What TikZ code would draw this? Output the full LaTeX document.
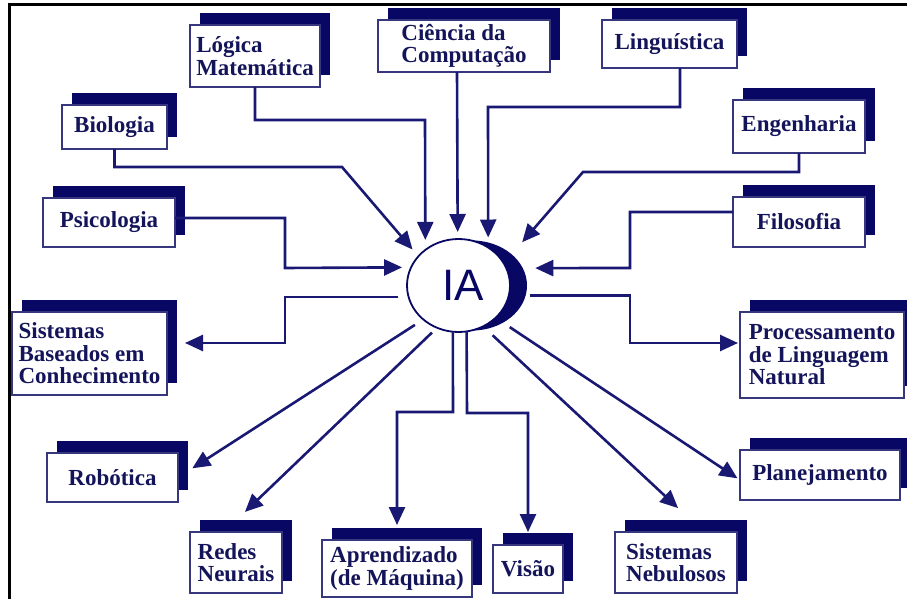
\documentclass[tikz,border=0pt]{standalone}
\usepackage{fontspec}
\setmainfont{Liberation Serif}
\newfontfamily\iafont{Liberation Sans}
\usetikzlibrary{shapes.geometric,shadows,arrows.meta}
\definecolor{navy}{RGB}{8,8,100}
\definecolor{lineblue}{RGB}{25,25,115}
\definecolor{textblue}{RGB}{20,20,90}
\definecolor{boxedge}{RGB}{55,55,125}
\tikzset{
  box/.style={draw=boxedge, line width=1.5pt, fill=white, text=textblue,
    font=\bfseries\fontsize{23}{22.5}\selectfont, align=left, inner sep=0pt, outer sep=0pt,
    general shadow={fill=navy, shadow xshift=10pt, shadow yshift=12pt}},
  arr/.style={draw=lineblue, line width=2.6pt, -{Triangle[length=18pt,width=16pt]}},
  frame/.style={draw=black, line width=3pt}
}
\begin{document}
\begin{tikzpicture}[x=1pt,y=-1pt]
\useasboundingbox (0,0) rectangle (907,599);
% boxes
\node[box, minimum width=130pt, minimum height=62pt] (logica) at (255,56) {Lógica\\Matemática};
\node[box, minimum width=172pt, minimum height=52pt] (ciencia) at (464,46) {Ciência da\\Computação};
\node[box, minimum width=135pt, minimum height=48pt] (linguistica) at (669.5,44) {Linguística};
\node[box, minimum width=132pt, minimum height=53pt] (engenharia) at (799,126.5) {Engenharia};
\node[box, minimum width=132pt, minimum height=50pt] (filosofia) at (799,222) {Filosofia};
\node[box, minimum width=105pt, minimum height=44pt] (biologia) at (114.5,127) {Biologia};
\node[box, minimum width=132pt, minimum height=49pt] (psicologia) at (109,222.5) {Psicologia};
\node[box, minimum width=155pt, minimum height=83pt] (sbc) at (89.5,353.5) {Sistemas\\Baseados em\\Conhecimento};
\node[box, minimum width=164pt, minimum height=86pt] (pln) at (822,355) {Processamento\\de Linguagem\\Natural};
\node[box, minimum width=160pt, minimum height=50pt] (planejamento) at (820,475) {Planejamento};
\node[box, minimum width=122pt, minimum height=61pt] (nebulosos) at (676,562.5) {Sistemas\\Nebulosos};
\node[box, minimum width=70pt, minimum height=48pt] (visao) at (528,569) {Visão};
\node[box, minimum width=150pt, minimum height=57pt] (aprendizado) at (397,568.5) {Aprendizado\\(de Máquina)};
\node[box, minimum width=92pt, minimum height=61pt] (redes) at (236,562.5) {Redes\\Neurais};
\node[box, minimum width=131pt, minimum height=49pt] (robotica) at (112.5,477.5) {Robótica};
% IA
\node[ellipse, fill=navy, minimum width=110pt, minimum height=90pt, inner sep=0pt, outer sep=0pt] (iashade) at (472,285.5) {};
\node[ellipse, draw=navy, line width=1.8pt, fill=white, minimum width=103pt, minimum height=93pt, inner sep=0pt, outer sep=0pt, text=navy, font=\iafont\fontsize{44}{44}\selectfont] (ia) at (458.5,285.5) {\hspace*{9pt}IA};
% incoming
\draw[arr, shorten >=10pt] (logica.south) |- (425,120) -- (ia.133.5);
\draw[arr, shorten >=7pt] ([xshift=-7pt]ciencia.south) -- (ia.91.8);
\draw[arr, shorten >=10pt] ([xshift=10.5pt]linguistica.south) |- (488,107) -- (ia.52.25);
\draw[arr, shorten >=28pt] (engenharia.south) |- (583,172) -- (ia.26.5);
\draw[arr, shorten >=9pt] (biologia.south) |- (342,167) -- (ia.144.9);
\draw[arr, shorten >=9pt] ([yshift=4.5pt]psicologia.east) -| (285,268) -- (ia.159.85);
\draw[arr, shorten >=29pt] ([yshift=10pt]filosofia.west) -| (630,268) -- (ia.20.15);
% outgoing
\draw[arr, shorten <=10.6pt, shorten >=18pt] (ia.193) -| (285,343) -- ([yshift=10.5pt]sbc.east);
\draw[arr, shorten <=21pt, shorten >=2pt] (ia.-11.8) -| (630,343) -- ([yshift=12pt]pln.west);
\draw[arr, shorten <=10pt, shorten >=17pt] (ia.224.3) -- (robotica.east);
\draw[arr, shorten <=7pt, shorten >=29pt] (ia.243.3) -- ([xshift=-12pt]redes.north);
\draw[arr, shorten >=15pt] (ia.263.2) -- (453,412) -| (aprendizado.north);
\draw[arr, shorten >=13pt] (ia.280.5) -- (467,413) -| (visao.north);
\draw[arr, shorten <=13pt, shorten >=35pt] (ia.301.7) -- ([xshift=27.7pt]nebulosos.north);
\draw[arr, shorten <=17pt, shorten >=3pt] (ia.319.45) -- ([yshift=-5pt]planejamento.west);
% frame
\draw[frame] (8,5) -- (907,5);
\draw[frame] (9.5,5) -- (9.5,599);
\end{tikzpicture}
\end{document}
